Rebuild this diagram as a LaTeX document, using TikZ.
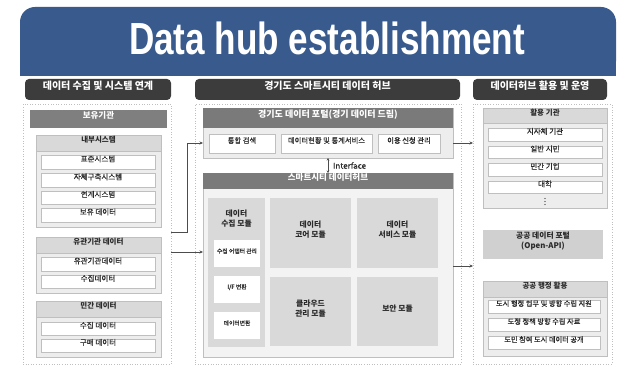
\documentclass[tikz,border=0pt]{standalone}
\usepackage{fontspec}
\setmainfont{Noto Sans CJK KR}
\newfontfamily\krmed{Noto Sans CJK KR}[FakeBold=0.6]
\newfontfamily\ttlfont{Liberation Sans}
\usetikzlibrary{fit,arrows.meta}
\definecolor{hubblue}{HTML}{385A8C}
\definecolor{dk}{HTML}{3C3C3C}
\definecolor{mid}{HTML}{7F7F7F}
\definecolor{lt}{HTML}{D9D9D9}
\definecolor{bgc}{HTML}{EDEDED}
\definecolor{hubbg}{HTML}{F3F3F3}
\definecolor{bd}{HTML}{BFBFBF}
\definecolor{opn}{HTML}{D0D0D0}
\definecolor{txt}{HTML}{2A2A2A}
\tikzset{
 base/.style={inner sep=0pt, outer sep=0pt},
 hdr/.style={base, fill=dk, rounded corners=4pt, text=white, font=\fontsize{10}{12}\selectfont\bfseries},
 band/.style={base, fill=mid, text=white, font=\fontsize{8.5}{10}\selectfont\bfseries},
 grp/.style={base, fill=bgc, draw=bd, line width=0.5pt},
 ghdr/.style={base, fill=lt, draw=bd, line width=0.5pt, text=txt, font=\fontsize{7.5}{9}\selectfont\bfseries},
 itembox/.style={base, fill=white, draw=bd, line width=0.5pt, text=txt, font=\krmed\fontsize{7.5}{9}\selectfont},
 smallbox/.style={base, fill=white, text=txt, font=\krmed\fontsize{5.8}{7}\selectfont},
 cont/.style={base, draw=bd, dotted, line width=0.6pt},
 modl/.style={base, fill=lt, text=txt, font=\fontsize{7.8}{10}\selectfont\bfseries, align=center},
 arr/.style={-{Stealth[length=3.5pt,width=3pt]}, draw=black!70, line width=0.6pt},
}
\begin{document}
\begin{tikzpicture}[x=1pt,y=-1pt]
\useasboundingbox (0,0) rectangle (622,366);
\fill[white] (0,0) rectangle (622,366);
% title
\fill[hubblue, rounded corners=15pt] (20,7) rectangle (616,76);
\fill[hubblue] (20,40) rectangle (616,76);
\node[base, text=white, font=\ttlfont\fontsize{45}{45}\selectfont\bfseries] (title) at (327,38) {\scalebox{0.78}[1]{Data hub establishment}};
% column headers
\node[hdr, fit={(25,79)(171,100)}] (h1) {데이터 수집 및 시스템 연계};
\node[hdr, fit={(195,79)(460,100)}] (h2) {경기도 스마트시티 데이터 허브};
\node[hdr, fit={(473,79)(607,100)}] (h3) {데이터허브 활용 및 운영};
% containers
\node[cont, fit={(23,104)(171,364)}] (c1) {};
\node[cont, fit={(195,104)(461,364)}] (c2) {};
\node[cont, fit={(473,104)(612,364)}] (c3) {};
% left column
\node[band, fit={(30,110)(167,128)}] (own) {보유기관};
\node[grp, fit={(36,135)(161,227)}] (g1) {};
\node[ghdr, fit={(36,135)(161,151)}] (g1h) {내부시스템};
\node[itembox, fit={(41,155)(155,169)}] (l1) {표준시스템};
\node[itembox, fit={(41,173)(155,187)}] (l2) {자체구축시스템};
\node[itembox, fit={(41,191)(155,204)}] (l3) {연계시스템};
\node[itembox, fit={(41,208)(155,222)}] (l4) {보유 데이터};
\node[grp, fit={(36,237)(161,293)}] (g2) {};
\node[ghdr, fit={(36,237)(161,253)}] (g2h) {유관기관 데이터};
\node[itembox, fit={(41,257)(155,271)}] (l5) {유관기관데이터};
\node[itembox, fit={(41,275)(155,288)}] (l6) {수집데이터};
\node[grp, fit={(36,301)(161,357)}] (g3) {};
\node[ghdr, fit={(36,301)(161,317)}] (g3h) {민간 데이터};
\node[itembox, fit={(41,322)(155,335)}] (l7) {수집 데이터};
\node[itembox, fit={(41,339)(155,352)}] (l8) {구매 데이터};
% middle: portal
\node[grp, fit={(203,108)(453,158)}] (portal) {};
\node[band, fill=black!52, font=\fontsize{9}{11}\selectfont\bfseries, fit={(203,108)(453,128)}] (portalh) {경기도 데이터 포털(경기 데이터 드림)};
\node[itembox, font=\krmed\fontsize{7.3}{9}\selectfont, fit={(209,134)(275,153)}] (p1) {통합 검색};
\node[itembox, font=\krmed\fontsize{7.3}{9}\selectfont, fit={(281,134)(372,153)}] (p2) {데이터현황 및 통계서비스};
\node[itembox, font=\krmed\fontsize{7.3}{9}\selectfont, fit={(378,134)(440,153)}] (p3) {이용 신청 관리};
% middle: hub
\node[base, fill=hubbg, draw=bd, line width=0.5pt, fit={(203,173)(453,357)}] (hub) {};
\node[band, fill=black!52, fit={(203,173)(453,189)}] (hubh) {스마트시티 데이터허브};
\node[base, fill=lt, fit={(208,198)(265,347)}] (col) {};
\node[base, text=txt, font=\fontsize{7.8}{10}\selectfont\bfseries, align=center] (colt) at (236.5,219) {데이터\\수집 모듈};
\node[smallbox, fit={(214,240)(260,267)}] (s1) {수집 어댑터 관리};
\node[smallbox, fit={(214,276)(260,303)}] (s2) {I/F 변환};
\node[smallbox, fit={(214,312)(260,339)}] (s3) {데이터변환};
\node[modl, fit={(270,198)(351,268)}] (m1) {데이터\\코어 모듈};
\node[modl, fit={(357,198)(438,268)}] (m2) {데이터\\서비스 모듈};
\node[modl, fit={(270,277)(351,346)}] (m3) {클라우드\\관리 모듈};
\node[modl, fit={(357,277)(438,346)}] (m4) {보안 모듈};
% interface
\draw[{Stealth[length=2.5pt,width=2.5pt]}-{Stealth[length=2.5pt,width=2.5pt]}, draw=black!70, line width=0.6pt] (portal.south) -- (hubh.north) node[midway, right=1.5pt, font=\krmed\fontsize{8}{9}\selectfont, text=txt] {Interface};
% right column
\node[grp, fit={(483,108)(607,208)}] (r1) {};
\node[ghdr, fit={(483,108)(607,123)}] (r1h) {활용 기관};
\node[itembox, fit={(488,128)(602,141)}] (u1) {지자체 기관};
\node[itembox, fit={(488,146)(602,158)}] (u2) {일반 시민};
\node[itembox, fit={(488,163)(602,176)}] (u3) {민간 기업};
\node[itembox, fit={(488,181)(602,193)}] (u4) {대학};
\foreach \yy in {198.5,201.5,204.5} \fill[txt] (545,\yy) circle (0.55);
\node[modl, fill=opn, fit={(483,230)(603,259)}] (op) {공공 데이터 포털\\(Open-API)};
\node[grp, fit={(483,281)(607,356)}] (r2) {};
\node[ghdr, fit={(483,281)(607,297)}] (r2h) {공공 행정 활용};
\node[itembox, font=\krmed\fontsize{7.2}{9}\selectfont, fit={(488,300)(600,313)}] (v1) {도시 행정 업무 및 방향 수립 지원};
\node[itembox, font=\krmed\fontsize{7.2}{9}\selectfont, fit={(488,318)(600,331)}] (v2) {도정 정책 방향 수립 자료};
\node[itembox, font=\krmed\fontsize{7.2}{9}\selectfont, fit={(488,336)(600,349)}] (v3) {도민 참여 도시 데이터 공개};
% connectors
\coordinate (ya) at (0,232);
\coordinate (yb) at (0,143);
\coordinate (yc) at (0,252);
\coordinate (yd) at (0,266);
\draw[arr] (c1.east |- ya) -- ++(16,0) |- (portal.west |- yb);
\draw[arr] (c1.east |- yc) -- (hub.west |- yc);
\draw[arr] (portal.east |- yb) -- (c3.west |- yb);
\draw[arr] (hub.east |- yd) -- (c3.west |- yd);
\end{tikzpicture}
\end{document}
